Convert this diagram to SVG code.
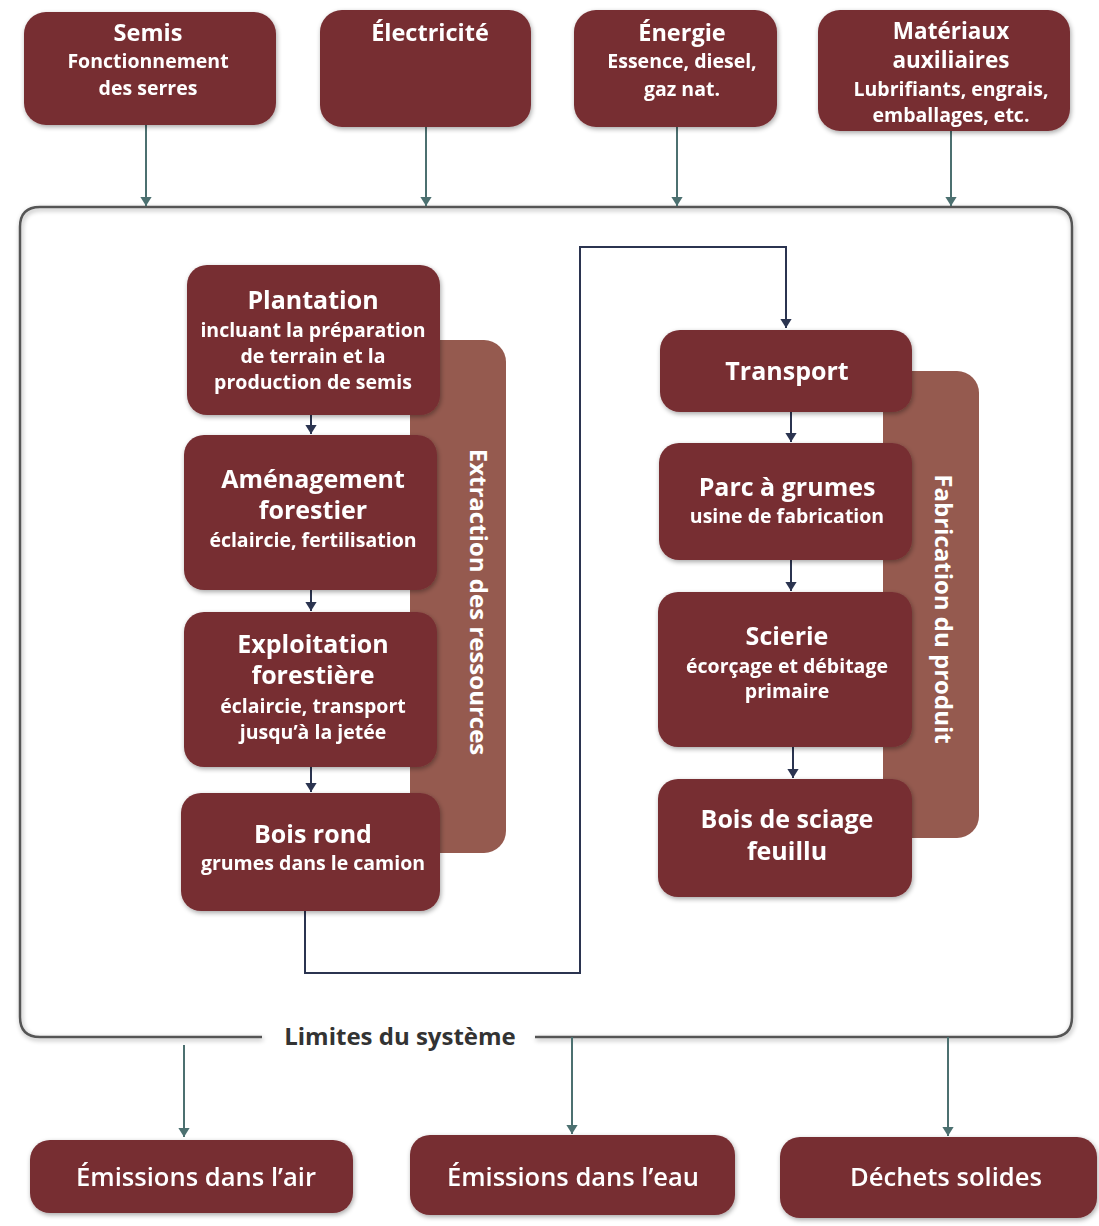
<svg xmlns="http://www.w3.org/2000/svg" width="1099" height="1226" viewBox="0 0 1099 1226">
<style>
.box{fill:#772e33;}
.band{fill:#955a4f;}
.t{font-family:"Open Sans","Noto Sans",sans-serif;font-weight:700;fill:#fff;text-anchor:middle;}
.h{font-size:23.5px;}
.hm{font-size:22.5px;}
.s{font-size:19.5px;}
.b{font-size:25px;}
.v{font-family:"Open Sans","Noto Sans",sans-serif;font-weight:700;fill:#fff;text-anchor:middle;font-size:24px;}
.o{font-family:"Open Sans","Noto Sans",sans-serif;font-weight:600;fill:#fff;text-anchor:middle;font-size:26px;}
.ext{fill:none;stroke:#4c7070;stroke-width:2;}
.int{fill:none;stroke:#2b3450;stroke-width:2;}
.lim{font-family:"Open Sans","Noto Sans",sans-serif;font-weight:700;fill:#333;text-anchor:middle;font-size:24px;}
</style>
<defs>
<filter id="sh" x="-10%" y="-10%" width="120%" height="130%">
<feGaussianBlur in="SourceAlpha" stdDeviation="2.5"/>
<feOffset dx="1" dy="2" result="o"/>
<feComponentTransfer><feFuncA type="linear" slope="0.35"/></feComponentTransfer>
<feMerge><feMergeNode/><feMergeNode in="SourceGraphic"/></feMerge>
</filter>
<marker id="ae" viewBox="0 0 8 10" refX="8" refY="5" markerWidth="9" markerHeight="12" markerUnits="userSpaceOnUse" orient="auto">
<path d="M0,0 L8,5 L0,10 Z" fill="#4c7070"/>
</marker>
<marker id="ai" viewBox="0 0 8 10" refX="8" refY="5" markerWidth="9" markerHeight="12" markerUnits="userSpaceOnUse" orient="auto">
<path d="M0,0 L8,5 L0,10 Z" fill="#2b3450"/>
</marker>
</defs>
<rect width="1099" height="1226" fill="#ffffff"/>

<!-- system boundary -->
<g id="boundary" filter="url(#sh)">
<path d="M262,1037 L40,1037 Q20,1037 20,1017 L20,227 Q20,207 40,207 L1052,207 Q1072,207 1072,227 L1072,1017 Q1072,1037 1052,1037 L535,1037" fill="none" stroke="#555" stroke-width="2.5"/>
</g>
<text class="lim" x="400" y="1045">Limites du système</text>

<!-- background bands -->
<g id="band-extraction">
<rect class="band" x="410" y="340" width="96" height="513" rx="22"/>
<text class="v" transform="translate(470,602) rotate(90)">Extraction des ressources</text>
</g>
<g id="band-fabrication">
<rect class="band" x="883" y="371" width="96" height="467" rx="22"/>
<text class="v" transform="translate(935,609) rotate(90)">Fabrication du produit</text>
</g>

<!-- connectors -->
<g id="connectors">
<path class="ext" d="M146,125 V206" marker-end="url(#ae)"/>
<path class="ext" d="M426,127 V206" marker-end="url(#ae)"/>
<path class="ext" d="M677,127 V206" marker-end="url(#ae)"/>
<path class="ext" d="M951,131 V206" marker-end="url(#ae)"/>
<path class="ext" d="M184,1045 V1137" marker-end="url(#ae)"/>
<path class="ext" d="M572,1037 V1134" marker-end="url(#ae)"/>
<path class="ext" d="M948,1037 V1136" marker-end="url(#ae)"/>
<path class="int" d="M311,415 V434" marker-end="url(#ai)"/>
<path class="int" d="M311,590 V611" marker-end="url(#ai)"/>
<path class="int" d="M311,767 V792" marker-end="url(#ai)"/>
<path class="int" d="M305,911 V973 H580 V247 H786 V328" marker-end="url(#ai)"/>
<path class="int" d="M791,412 V442" marker-end="url(#ai)"/>
<path class="int" d="M791,560 V591" marker-end="url(#ai)"/>
<path class="int" d="M793,747 V778" marker-end="url(#ai)"/>
</g>

<!-- top inputs -->
<g id="semis" filter="url(#sh)">
<rect class="box" x="24" y="12" width="252" height="113" rx="22"/>
<text class="t h" x="148" y="41">Semis</text>
<text class="t s" x="148" y="68">Fonctionnement</text>
<text class="t s" x="148" y="95">des serres</text>
</g>
<g id="electricite" filter="url(#sh)">
<rect class="box" x="320" y="10" width="211" height="117" rx="22"/>
<text class="t h" x="430" y="41">Électricité</text>
</g>
<g id="energie" filter="url(#sh)">
<rect class="box" x="574" y="10" width="203" height="117" rx="22"/>
<text class="t h" x="682" y="41">Énergie</text>
<text class="t s" x="682" y="68">Essence, diesel,</text>
<text class="t s" x="682" y="96">gaz nat.</text>
</g>
<g id="materiaux" filter="url(#sh)">
<rect class="box" x="818" y="10" width="252" height="121" rx="22"/>
<text class="t hm" x="951" y="39">Matériaux</text>
<text class="t hm" x="951" y="68">auxiliaires</text>
<text class="t s" x="951" y="96">Lubrifiants, engrais,</text>
<text class="t s" x="951" y="122">emballages, etc.</text>
</g>

<!-- left column -->
<g id="plantation" filter="url(#sh)">
<rect class="box" x="187" y="265" width="253" height="150" rx="20"/>
<text class="t b" x="313" y="309">Plantation</text>
<text class="t s" x="313" y="337">incluant la préparation</text>
<text class="t s" x="313" y="363">de terrain et la</text>
<text class="t s" x="313" y="389">production de semis</text>
</g>
<g id="amenagement" filter="url(#sh)">
<rect class="box" x="184" y="435" width="253" height="155" rx="20"/>
<text class="t b" x="313" y="488">Aménagement</text>
<text class="t b" x="313" y="519">forestier</text>
<text class="t s" x="313" y="547">éclaircie, fertilisation</text>
</g>
<g id="exploitation" filter="url(#sh)">
<rect class="box" x="184" y="612" width="253" height="155" rx="20"/>
<text class="t b" x="313" y="653">Exploitation</text>
<text class="t b" x="313" y="684">forestière</text>
<text class="t s" x="313" y="713">éclaircie, transport</text>
<text class="t s" x="313" y="739">jusqu’à la jetée</text>
</g>
<g id="boisrond" filter="url(#sh)">
<rect class="box" x="181" y="793" width="259" height="118" rx="20"/>
<text class="t b" x="313" y="843">Bois rond</text>
<text class="t s" x="313" y="870">grumes dans le camion</text>
</g>

<!-- right column -->
<g id="transport" filter="url(#sh)">
<rect class="box" x="660" y="330" width="252" height="82" rx="20"/>
<text class="t b" x="787" y="380">Transport</text>
</g>
<g id="parc" filter="url(#sh)">
<rect class="box" x="659" y="443" width="253" height="117" rx="20"/>
<text class="t b" x="787" y="496">Parc à grumes</text>
<text class="t s" x="787" y="523">usine de fabrication</text>
</g>
<g id="scierie" filter="url(#sh)">
<rect class="box" x="658" y="592" width="254" height="155" rx="20"/>
<text class="t b" x="787" y="645">Scierie</text>
<text class="t s" x="787" y="673">écorçage et débitage</text>
<text class="t s" x="787" y="698">primaire</text>
</g>
<g id="sciage" filter="url(#sh)">
<rect class="box" x="658" y="779" width="254" height="118" rx="20"/>
<text class="t b" x="787" y="828">Bois de sciage</text>
<text class="t b" x="787" y="860">feuillu</text>
</g>

<!-- outputs -->
<g id="air" filter="url(#sh)">
<rect class="box" x="30" y="1140" width="323" height="73" rx="20"/>
<text class="o" x="196" y="1186" textLength="240" lengthAdjust="spacingAndGlyphs">Émissions dans l’air</text>
</g>
<g id="eau" filter="url(#sh)">
<rect class="box" x="410" y="1135" width="325" height="80" rx="20"/>
<text class="o" x="573" y="1186" textLength="252" lengthAdjust="spacingAndGlyphs">Émissions dans l’eau</text>
</g>
<g id="dechets" filter="url(#sh)">
<rect class="box" x="780" y="1137" width="317" height="81" rx="20"/>
<text class="o" x="946" y="1186" textLength="192" lengthAdjust="spacingAndGlyphs">Déchets solides</text>
</g>
</svg>
